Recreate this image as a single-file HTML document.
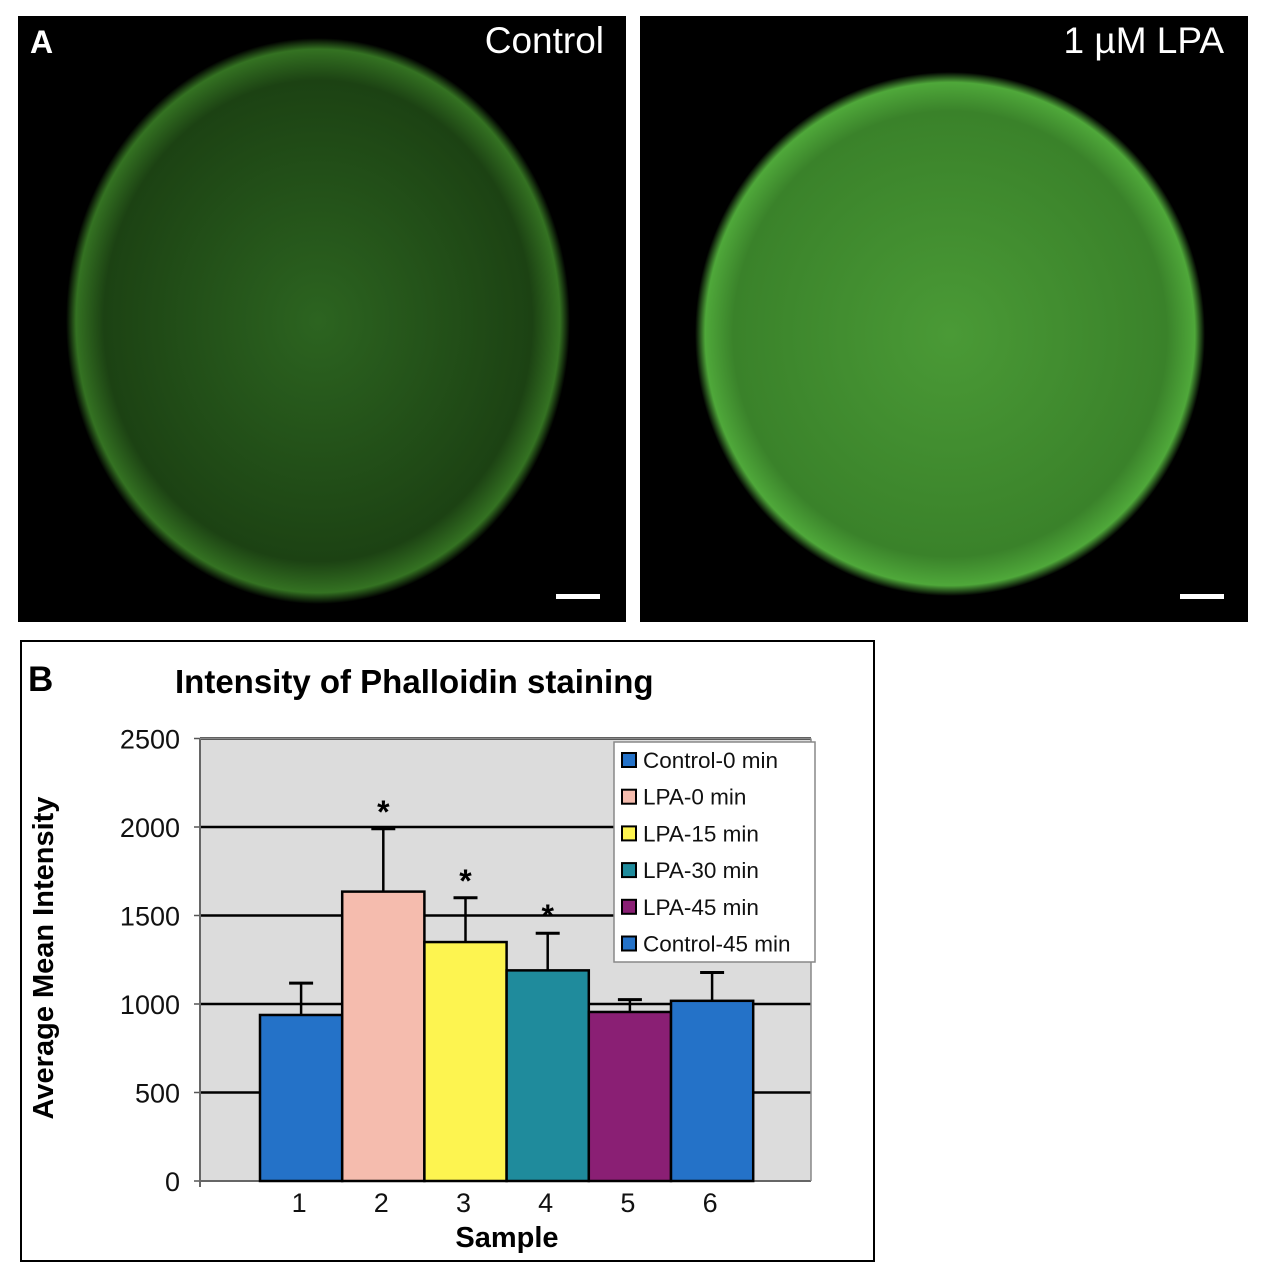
<!DOCTYPE html>
<html><head><meta charset="utf-8"><style>
body{margin:0;background:#fff;width:1265px;height:1280px;position:relative;overflow:hidden;font-family:"Liberation Sans",sans-serif}
.img{position:absolute;background:#000;overflow:hidden}
</style></head><body>
<div class="img" style="left:18px;top:16px;width:608px;height:606px">
<svg width="608" height="606"><defs><radialGradient id="g1" cx="50%" cy="50%" r="50%"><stop offset="0" stop-color="#2c6420"/><stop offset="0.85" stop-color="#1c4213"/><stop offset="0.96" stop-color="#347222"/><stop offset="1" stop-color="#000"/></radialGradient></defs>
<ellipse cx="300" cy="305" rx="252" ry="283" fill="url(#g1)"/></svg>
<div style="position:absolute;left:12px;top:8px;color:#fff;font-weight:bold;font-size:32px">A</div>
<div style="position:absolute;right:22px;top:4px;color:#fff;font-size:37px">Control</div>
<div style="position:absolute;left:538px;top:578px;width:44px;height:5px;background:#fff"></div>
</div>
<div class="img" style="left:640px;top:16px;width:608px;height:606px">
<svg width="608" height="606"><defs><radialGradient id="g2" cx="50%" cy="50%" r="50%"><stop offset="0" stop-color="#4a9a36"/><stop offset="0.85" stop-color="#3a822a"/><stop offset="0.96" stop-color="#4fa83a"/><stop offset="1" stop-color="#000"/></radialGradient></defs>
<ellipse cx="310" cy="318" rx="255" ry="262" fill="url(#g2)"/></svg>
<div style="position:absolute;right:24px;top:4px;color:#fff;font-size:37px">1 µM LPA</div>
<div style="position:absolute;left:540px;top:578px;width:44px;height:5px;background:#fff"></div>
</div>
<div style="position:absolute;left:20px;top:640px;width:855px;height:622px;border:2px solid #000;box-sizing:border-box"></div>
<svg id="chart" width="1265" height="1280" style="position:absolute;left:0;top:0"></svg>
<script>
const categories=["1","2","3","4","5","6"];
const means=[938,1635,1350,1190,955,1018];
const errs=[180,355,250,210,70,160];
const colors=["#2472c8","#f5bcae","#fdf450","#1f8b9c","#8a1f74","#2472c8"];
const seriesNames=["Control-0 min","LPA-0 min","LPA-15 min","LPA-30 min","LPA-45 min","Control-45 min"];
const yTicks=[0,500,1000,1500,2000,2500];
const stars=[false,true,true,true,false,false];
const NS="http://www.w3.org/2000/svg";
const svg=document.getElementById('chart');
const y0=1181,k=0.177;
const y=v=>y0-v*k;
const x=i=>260+i*82.2;
const bw=82.2;
function el(t,a,txt){const e=document.createElementNS(NS,t);for(const n in a)e.setAttribute(n,a[n]);if(txt!=null)e.textContent=txt;svg.appendChild(e);return e;}
let e=el('rect',{x:200,y:y(2500),width:611,height:y(0)-y(2500),fill:'#dcdcdc'});

yTicks.forEach(v=>{
 if(v>0){e=el('line',{x1:200,x2:811,y1:y(v),y2:y(v),stroke:'#000','stroke-width':2.5});
 }
 e=el('line',{x1:194,x2:200,y1:y(v),y2:y(v),stroke:'#555','stroke-width':1.5});
 e=el('text',{x:180,y:y(v)+10,'text-anchor':'end','font-size':27,fill:'#111'},String(v));
 
});
el('line',{x1:200,x2:200,y1:y(2500),y2:y(0)+6,stroke:'#666','stroke-width':2});
el('line',{x1:200,x2:811,y1:y(0),y2:y(0),stroke:'#666','stroke-width':2});
el('line',{x1:811,x2:811,y1:y(2500),y2:y(0),stroke:'#888','stroke-width':1.5});
el('line',{x1:200,x2:811,y1:y(2500),y2:y(2500),stroke:'#888','stroke-width':1.5});
categories.forEach((c,i)=>{
 const bx=x(i);
 e=el('line',{x1:bx+bw/2,x2:bx+bw/2,y1:y(means[i]),y2:y(means[i]+errs[i]),stroke:'#000','stroke-width':2.5});
 
 el('line',{x1:bx+bw/2-12,x2:bx+bw/2+12,y1:y(means[i]+errs[i]),y2:y(means[i]+errs[i]),stroke:'#000','stroke-width':3});
 e=el('rect',{x:bx,y:y(means[i]),width:bw,height:y(0)-y(means[i]),fill:colors[i],stroke:'#000','stroke-width':2.5});
 
 if(stars[i]){e=el('text',{x:bx+bw/2,y:y(means[i]+errs[i])-6,'text-anchor':'middle','font-size':32,'font-weight':'bold'},'*');
 }
 e=el('text',{x:bx+bw/2-2,y:1212,'text-anchor':'middle','font-size':27,fill:'#111'},c);
 
});
e=el('text',{x:175,y:693,'font-size':33,'font-weight':'bold'},'Intensity of Phalloidin staining');

e=el('text',{x:28,y:691,'font-size':35,'font-weight':'bold'},'B');

e=el('text',{x:507,y:1247,'text-anchor':'middle','font-size':29,'font-weight':'bold'},'Sample');

e=el('text',{x:0,y:0,transform:'translate(53,958) rotate(-90)','text-anchor':'middle','font-size':29,'font-weight':'bold'},'Average Mean Intensity');

e=el('rect',{x:614,y:742,width:201,height:220,fill:'#fff',stroke:'#888','stroke-width':1.5});

seriesNames.forEach((n,i)=>{
 const ly=760+i*36.7;
 el('rect',{x:622,y:ly-7,width:14,height:14,fill:colors[i],stroke:'#000','stroke-width':2});
 e=el('text',{x:643,y:ly+8,'font-size':22.5,fill:'#111'},n);
 
});
</script>
</body></html>
